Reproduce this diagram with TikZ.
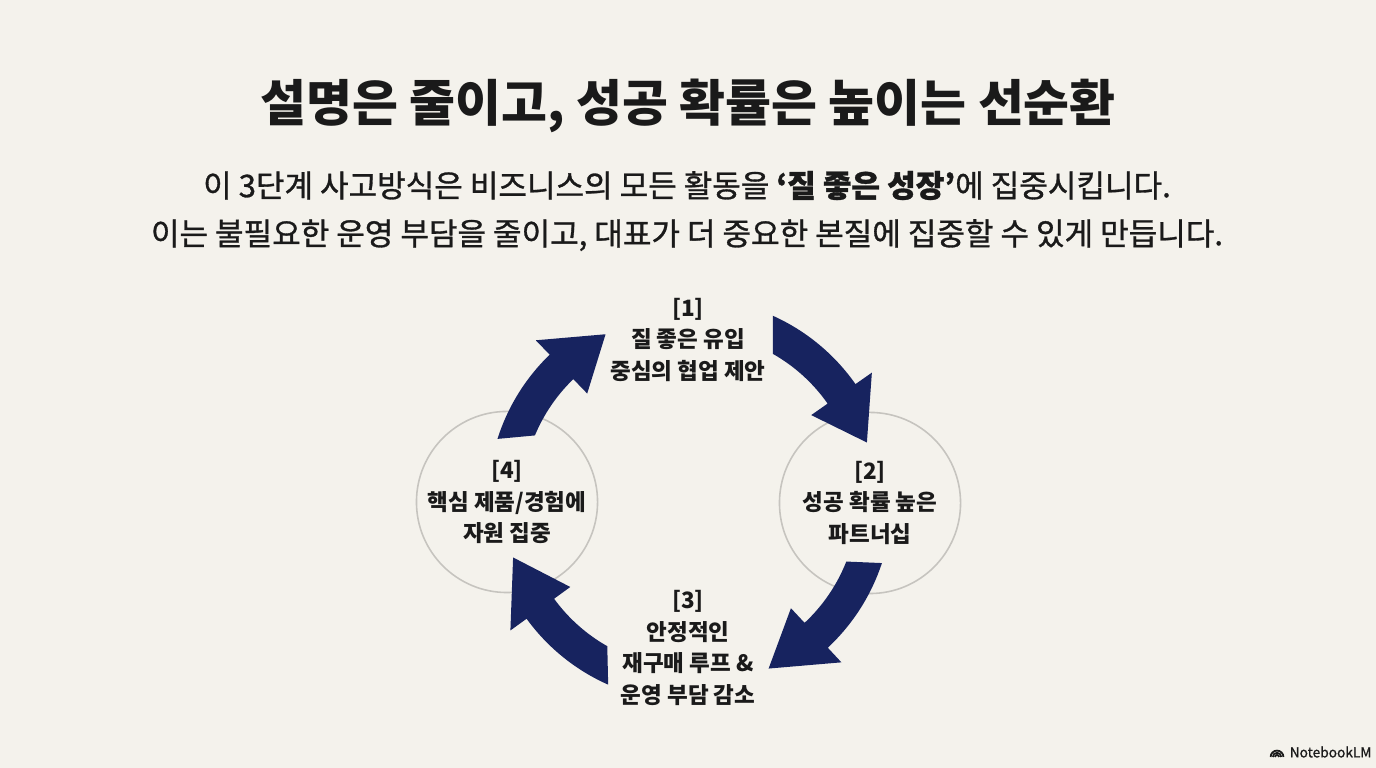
\documentclass[tikz,border=0pt]{standalone}
\usepackage{fontspec}
\setmainfont{Noto Sans CJK KR}
\newfontfamily\medkr[FakeBold=1]{Noto Sans CJK KR}
\usetikzlibrary{positioning}

\definecolor{bgcream}{HTML}{F4F2EC}
\definecolor{cyclenavy}{HTML}{17235F}
\definecolor{ringgray}{HTML}{C6C4BF}
\definecolor{inkblack}{HTML}{1A1A1A}

\tikzset{
    steplabel/.style={text=inkblack, align=center, font=\bfseries\fontsize{6.4}{9}\selectfont},
    ring/.style={circle, draw=ringgray, line width=0.45pt, minimum size=1.81cm, inner sep=0pt},
}

% 순환 화살표: 꼬리 바깥각, 꼬리 안쪽각, 머리 시작각, 끝점각
\newcommand{\cyclearrow}[4]{%
    \fill[cyclenavy] (#1:202) arc[start angle=#1, end angle=#3, radius=202]
        -- (#3:222) -- (#4:186) -- (#3:148) -- (#3:168)
        arc[start angle=#3, end angle=#2, radius=168] -- cycle;}

\begin{document}
\begin{tikzpicture}[x=0.01cm, y=0.01cm]
        % 배경
        \fill[bgcream] (0, 0) rectangle (1376, 768);
        \useasboundingbox (0, 0) rectangle (1376, 768);

        % 제목과 설명
        \node[text=inkblack, font=\bfseries\fontsize{14.2}{16}\selectfont] (title) at (688, 662)
            {설명은 줄이고, 성공 확률은 높이는 선순환};
        \node[text=inkblack, align=center, font=\medkr\fontsize{8.83}{13.66}\selectfont] (subtitle) at (687, 557)
            {이 3단계 사고방식은 비즈니스의 모든 활동을 \textbf{‘질 좋은 성장’}에 집중시킵니다.\\
             이는 불필요한 운영 부담을 줄이고, 대표가 더 중요한 본질에 집중할 수 있게 만듭니다.};

        % 순환의 중심
        \coordinate (O) at (690, 268);

        % 원 두 개
        \node[ring, steplabel] (step4) at (507, 266) {[4]\\핵심 제품/경험에\\자원 집중};
        \node[ring, steplabel] (step2) at (870, 265) {[2]\\성공 확률 높은\\파트너십};

        % 위, 아래 단계
        \node[steplabel] (step1) at (688, 428) {[1]\\질 좋은 유입\\중심의 협업 제안};
        \node[steplabel] (step3) at (688, 120) {[3]\\안정적인\\재구매 루프 \&\\운영 부담 감소};

        % 화살표
        \begin{scope}[shift={(O)}]
            \cyclearrow{162.4}{157.4}{134}{117}
            \cyclearrow{65.8}{60.4}{35}{18}
            \cyclearrow{-18.2}{-21.5}{-47}{-65}
            \cyclearrow{-113.9}{-119.5}{-144}{-162}
        \end{scope}

        % 로고
        \node[anchor=west, text=inkblack, inner sep=0pt, font=\medkr\fontsize{3.9}{4}\selectfont] (brand) at (1289, 16) {NotebookLM};
        \coordinate (mark) at (1277, 11);
        \foreach \r in {2, 4.2, 6.4}
            \draw[inkblack, line width=0.5pt] ([xshift=-\r*0.01cm]mark) arc[start angle=180, end angle=0, radius=\r];
\end{tikzpicture}
\end{document}
